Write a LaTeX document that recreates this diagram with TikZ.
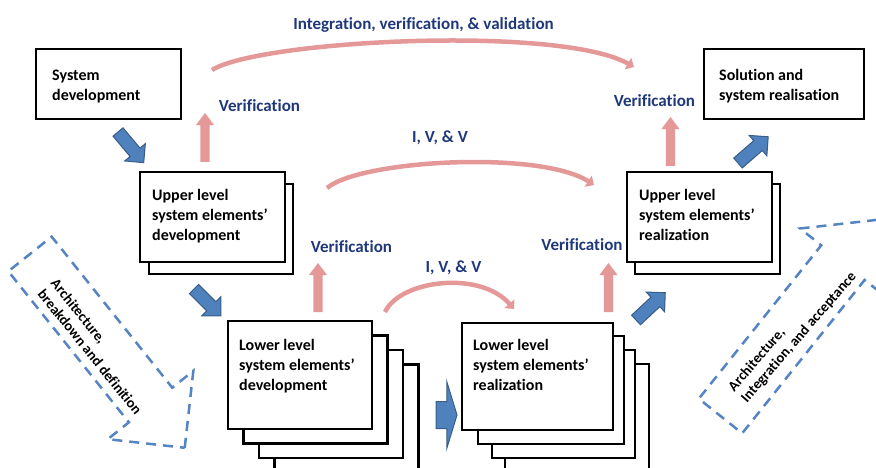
\documentclass[tikz,border=0pt]{standalone}
\usepackage{fontspec}
\setmainfont{Carlito}[Ligatures={TeX,NoCommon}]
\usetikzlibrary{positioning,shapes.arrows,arrows.meta}

\definecolor{navy}{RGB}{31,56,122}
\definecolor{rose}{RGB}{228,152,152}
\definecolor{steel}{RGB}{79,129,189}
\definecolor{steeldark}{RGB}{56,93,138}
\definecolor{dashblue}{RGB}{84,132,196}

\begin{document}
\begin{tikzpicture}[x=1pt, y=-1pt,
  card/.style={draw, line width=2.6pt, fill=white, anchor=north west, inner sep=0pt, outer sep=0pt},
  cardtext/.style={align=left, inner sep=0pt, anchor=north west, font=\bfseries\fontsize{16}{20}\selectfont},
  lbl/.style={text=navy, anchor=base, inner sep=0pt, font=\bfseries\fontsize{17}{20}\selectfont},
  bluearrow/.style={single arrow, fill=steel, draw=steeldark, line width=1pt, inner xsep=0pt, inner ysep=6pt, outer sep=0pt, single arrow head extend=7pt, minimum height=40pt, anchor=tail},
  verarrow/.style={single arrow, fill=rose, inner xsep=0pt, inner ysep=4.5pt, outer sep=0pt, single arrow head extend=4.5pt, single arrow tip angle=74, minimum height=49pt, anchor=tail, rotate=90},
  ivv/.style={draw=rose, line width=4.5pt, -{Triangle[length=7pt,width=13pt]}},
  flow/.style={single arrow, draw=dashblue, line width=2.5pt, dash pattern=on 10pt off 7pt, inner xsep=0pt, inner ysep=26.5pt, outer sep=0pt, single arrow head extend=27pt, anchor=tail},
  flowtext/.style={align=left, inner sep=0pt, font=\bfseries\fontsize{14.5}{17}\selectfont}
]
\useasboundingbox (0,0) rectangle (876,468);

\node[flow, minimum height=248pt, rotate=-51.4] (archL) at (30,254) {};
\node[flowtext, rotate=-51] (archLT) at (96.6,346.6) {Architecture,\\breakdown and definition};
\node[flow, minimum height=251pt, rotate=51.4] (archR) at (720.5,416) {};
\node[flowtext, rotate=49] (archRT) at (792.6,332) {Architecture,\\Integration, and acceptance};

\node[card, minimum width=145pt, minimum height=70pt] (sysDev) at (36,49) {};
\node[cardtext, below right=20.7pt and 16pt of sysDev.north west] (sysDevT) {System\\development};
\node[card, minimum width=160pt, minimum height=70pt] (solReal) at (704,49) {};
\node[cardtext, below right=19.8pt and 15pt of solReal.north west] (solRealT) {Solution and\\system realisation};

\node[card, minimum width=144pt, minimum height=90pt] (upDevB) at (149,184) {};
\node[card, minimum width=145pt, minimum height=90pt] (upDev) at (140,172) {};
\node[cardtext, below right=16.8pt and 12pt of upDev.north west] (upDevT) {Upper level\\system elements'\\development};
\node[card, minimum width=145pt, minimum height=90pt] (upRealB) at (635,184) {};
\node[card, minimum width=145pt, minimum height=90pt] (upReal) at (627,172) {};
\node[cardtext, below right=16.8pt and 12pt of upReal.north west] (upRealT) {Upper level\\system elements'\\realization};

\foreach \i in {3,2,1}
  \node[card, minimum width=144pt, minimum height=108pt] (loDev\i) at (228+15.5*\i,321+14.5*\i) {};
\node[card, minimum width=144pt, minimum height=108pt] (loDev) at (228,321) {};
\node[cardtext, below right=17.8pt and 11pt of loDev.north west] (loDevT) {Lower level\\system elements'\\development};

\foreach \x/\y/\w [count=\i] in {505/364/144, 492/350/143, 478/336/146}
  \node[card, minimum width=\w pt, minimum height=108pt] (loReal\i) at (\x,\y) {};
\node[card, minimum width=151pt, minimum height=107pt] (loReal) at (462,323) {};
\node[cardtext, below right=16.5pt and 11pt of loReal.north west] (loRealT) {Lower level\\system elements'\\realization};

\node[bluearrow, rotate=-50] (down1) at (118,132) {};
\node[bluearrow, rotate=-45, minimum height=38pt] (down2) at (194,289) {};
\node[bluearrow, inner ysep=13pt, single arrow head extend=20pt, single arrow tip angle=146, minimum height=21pt] (across) at (436,415) {};
\node[bluearrow, rotate=43] (up1) at (636,320) {};
\node[bluearrow, rotate=41] (up2) at (738,163) {};

\node[verarrow] (ver1) at (205,162) {};
\node[verarrow] (ver2) at (318,312) {};
\node[verarrow] (ver3) at (608.5,312) {};
\node[verarrow] (ver4) at (670.5,166) {};

\coordinate (topL) at (212,70);
\coordinate (topR) at (634,67);
\coordinate (midL) at (327,188);
\coordinate (midR) at (594,185);
\coordinate (lowL) at (385,312);
\coordinate (lowR) at (514,309);
\draw[ivv] (topL) .. controls (260,40) and (560,25) .. (topR);
\draw[ivv] (midL) .. controls (360,160) and (540,150) .. (midR);
\draw[ivv] (lowL) .. controls (400,280) and (480,270) .. (lowR);

\node[lbl] (ivvTop) at (423.5,30) {Integration, verification, \& validation};
\node[lbl] (verTL) at (259.5,112) {Verification};
\node[lbl] (ivvMid) at (440,143) {I, V, \& V};
\node[lbl] (verTR) at (654.5,107) {Verification};
\node[lbl] (verML) at (351.5,252) {Verification};
\node[lbl] (verMR) at (582,251) {Verification};
\node[lbl] (ivvLow) at (453.5,272) {I, V, \& V};
\end{tikzpicture}
\end{document}
